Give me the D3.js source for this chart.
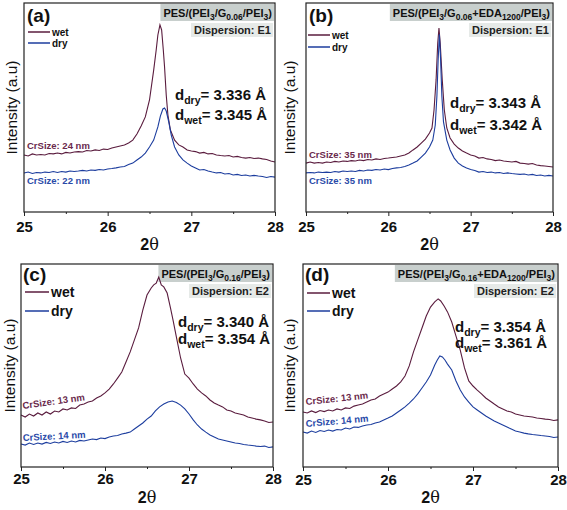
<!DOCTYPE html>
<html><head><meta charset="utf-8">
<script src="https://cdn.jsdelivr.net/npm/d3@7"></script>
<style>body{margin:0;background:#fff}svg{display:block}text{font-family:"Liberation Sans",Arial,sans-serif}</style>
</head><body>
<svg id="c" width="567" height="510"></svg>
<script>
// ---------- data ----------
const xTicks = [25, 26, 27, 28];
const xMinorTicks = [25.5, 26.5, 27.5];
const panelLabels = ["(a)", "(b)", "(c)", "(d)"];
const dispersions = ["Dispersion: E1", "Dispersion: E1", "Dispersion: E2", "Dispersion: E2"];
const titles = [
  [["PES/(PEI",0],["3",1],["/G",0],["0.06",1],["/PEI",0],["3",1],[")",0]],
  [["PES/(PEI",0],["3",1],["/G",0],["0.06",1],["+EDA",0],["1200",1],["/PEI",0],["3",1],[")",0]],
  [["PES/(PEI",0],["3",1],["/G",0],["0.16",1],["/PEI",0],["3",1],[")",0]],
  [["PES/(PEI",0],["3",1],["/G",0],["0.16",1],["+EDA",0],["1200",1],["/PEI",0],["3",1],[")",0]]
];
const dDry = ["3.336", "3.343", "3.340", "3.354"];
const dWet = ["3.345", "3.342", "3.354", "3.361"];
const crWet = ["CrSize: 24 nm", "CrSize: 35 nm", "CrSize: 13 nm", "CrSize: 13 nm"];
const crDry = ["CrSize: 22 nm", "CrSize: 35 nm", "CrSize: 14 nm", "CrSize: 14 nm"];

const aWet = [[25.00,27.3],[25.05,26.8],[25.10,27.8],[25.15,27.3],[25.20,27.5],[25.25,27.3],[25.30,28.0],[25.35,27.8],[25.40,28.2],[25.45,27.8],[25.50,28.5],[25.55,28.2],[25.60,28.7],[25.65,28.9],[25.70,28.7],[25.75,29.4],[25.80,29.2],[25.85,29.7],[25.90,29.4],[25.95,30.1],[26.00,29.9],[26.05,30.6],[26.10,31.1],[26.15,31.6],[26.20,32.1],[26.25,33.0],[26.30,34.4],[26.35,37.3],[26.40,41.1],[26.45,45.5],[26.50,53.6],[26.55,67.9],[26.58,77.5],[26.60,84.7],[26.625,89.5],[26.645,87.1],[26.665,77.5],[26.68,69.4],[26.70,56.0],[26.72,46.4],[26.75,39.2],[26.80,34.4],[26.85,32.1],[26.90,31.1],[26.95,29.7],[27.00,29.2],[27.05,28.9],[27.10,28.2],[27.15,28.5],[27.20,27.8],[27.25,28.0],[27.30,27.3],[27.35,27.0],[27.40,26.8],[27.45,27.0],[27.50,26.3],[27.55,26.6],[27.60,26.1],[27.65,25.8],[27.70,26.1],[27.75,25.6],[27.80,25.8],[27.85,25.4],[27.90,25.1],[27.95,24.4],[28.00,23.9]];
const aDry = [[25.00,18.7],[25.05,19.1],[25.10,18.4],[25.15,18.9],[25.20,18.7],[25.25,19.1],[25.30,18.9],[25.35,19.4],[25.40,18.9],[25.45,19.4],[25.50,19.1],[25.55,19.6],[25.60,19.4],[25.65,19.6],[25.70,19.9],[25.75,19.6],[25.80,20.1],[25.85,19.9],[25.90,20.3],[25.95,20.1],[26.00,20.6],[26.05,20.8],[26.10,21.1],[26.15,21.5],[26.20,21.8],[26.25,22.7],[26.30,23.4],[26.35,24.9],[26.40,26.3],[26.45,28.2],[26.50,31.1],[26.55,34.4],[26.60,40.7],[26.63,45.9],[26.66,49.3],[26.68,49.8],[26.70,48.3],[26.73,43.1],[26.76,36.8],[26.80,31.1],[26.85,27.3],[26.90,24.9],[26.95,23.4],[27.00,22.0],[27.05,21.1],[27.10,20.1],[27.15,20.3],[27.20,19.6],[27.25,19.1],[27.30,18.7],[27.35,18.9],[27.40,18.2],[27.45,18.4],[27.50,17.7],[27.55,18.0],[27.60,17.5],[27.65,17.7],[27.70,17.2],[27.75,17.5],[27.80,17.2],[27.85,17.0],[27.90,16.5],[27.95,17.0],[28.00,16.7]];
const bWet = [[25.00,23.4],[25.05,23.9],[25.10,23.4],[25.15,23.7],[25.20,23.4],[25.25,23.9],[25.30,23.7],[25.35,24.2],[25.40,23.9],[25.45,24.4],[25.50,24.2],[25.55,24.6],[25.60,24.4],[25.65,24.9],[25.70,24.6],[25.75,25.1],[25.80,24.9],[25.85,25.4],[25.90,25.1],[25.95,25.6],[26.00,25.8],[26.05,26.1],[26.10,26.3],[26.15,26.8],[26.20,27.3],[26.25,28.2],[26.30,29.7],[26.35,31.1],[26.40,33.0],[26.45,34.9],[26.50,37.8],[26.53,40.2],[26.555,48.8],[26.58,63.2],[26.60,80.9],[26.615,88.0],[26.63,80.9],[26.655,63.2],[26.68,48.8],[26.71,40.2],[26.75,35.4],[26.80,32.5],[26.85,30.6],[26.90,29.2],[26.95,28.2],[27.00,27.3],[27.05,26.8],[27.10,25.8],[27.15,26.1],[27.20,25.4],[27.25,25.1],[27.30,24.6],[27.35,24.9],[27.40,24.4],[27.45,24.2],[27.50,23.9],[27.55,24.2],[27.60,23.4],[27.65,23.2],[27.70,22.9],[27.75,23.2],[27.80,22.5],[27.85,22.2],[27.90,22.0],[27.95,21.8],[28.00,21.5]];
const bDry = [[25.00,18.7],[25.05,18.9],[25.10,18.7],[25.15,19.1],[25.20,18.9],[25.25,19.1],[25.30,18.9],[25.35,19.4],[25.40,19.1],[25.45,19.6],[25.50,19.4],[25.55,19.6],[25.60,19.4],[25.65,19.9],[25.70,19.6],[25.75,20.1],[25.80,19.9],[25.85,20.3],[25.90,20.1],[25.95,20.6],[26.00,20.3],[26.05,20.8],[26.10,21.1],[26.15,21.3],[26.20,21.8],[26.25,22.5],[26.30,23.4],[26.35,24.4],[26.40,26.3],[26.45,28.2],[26.50,31.1],[26.54,34.4],[26.57,41.6],[26.59,55.5],[26.605,72.7],[26.62,85.0],[26.635,72.7],[26.65,55.5],[26.67,43.1],[26.71,34.4],[26.75,29.7],[26.80,25.8],[26.85,23.4],[26.90,22.0],[26.95,21.1],[27.00,20.3],[27.05,19.9],[27.10,19.1],[27.15,19.4],[27.20,18.9],[27.25,19.1],[27.30,18.7],[27.35,18.9],[27.40,18.4],[27.45,18.7],[27.50,18.4],[27.55,18.2],[27.60,18.0],[27.65,18.2],[27.70,17.7],[27.75,18.0],[27.80,17.5],[27.85,17.7],[27.90,17.2],[27.95,17.5],[28.00,17.2]];
const cWet = [[25.00,25.6],[25.05,24.6],[25.10,26.1],[25.15,25.1],[25.20,26.6],[25.25,25.6],[25.30,27.1],[25.35,26.1],[25.40,27.6],[25.45,27.1],[25.50,28.6],[25.55,28.1],[25.60,29.1],[25.65,28.8],[25.70,30.5],[25.75,31.0],[25.80,32.0],[25.85,32.5],[25.90,34.0],[25.95,35.0],[26.00,36.5],[26.05,38.4],[26.10,40.9],[26.15,43.8],[26.20,46.8],[26.25,51.7],[26.30,56.7],[26.35,62.6],[26.40,68.5],[26.45,77.3],[26.50,84.7],[26.55,88.2],[26.58,89.7],[26.61,90.6],[26.64,93.6],[26.67,89.7],[26.70,88.7],[26.74,85.7],[26.78,78.3],[26.81,72.4],[26.85,64.0],[26.90,53.7],[26.95,45.8],[27.00,43.8],[27.05,40.9],[27.10,38.4],[27.15,36.5],[27.20,35.0],[27.25,33.0],[27.30,31.5],[27.35,30.5],[27.40,29.6],[27.45,28.1],[27.50,27.6],[27.55,26.6],[27.60,26.1],[27.65,25.6],[27.70,24.6],[27.75,24.1],[27.80,23.6],[27.85,23.2],[27.90,22.7],[27.95,21.9],[28.00,22.2]];
const cDry = [[25.00,11.3],[25.05,10.8],[25.10,11.8],[25.15,11.1],[25.20,11.8],[25.25,11.3],[25.30,12.1],[25.35,11.6],[25.40,12.3],[25.45,11.8],[25.50,12.6],[25.55,12.1],[25.60,12.8],[25.65,12.3],[25.70,13.1],[25.75,12.8],[25.80,13.3],[25.85,13.8],[25.90,13.5],[25.95,14.3],[26.00,14.0],[26.05,14.8],[26.10,15.3],[26.15,15.5],[26.20,16.3],[26.25,16.7],[26.30,17.2],[26.35,18.7],[26.40,20.2],[26.45,21.7],[26.50,23.6],[26.55,25.1],[26.60,27.6],[26.65,29.6],[26.70,31.0],[26.75,32.0],[26.80,32.5],[26.85,31.8],[26.90,30.5],[26.95,28.6],[27.00,26.1],[27.05,23.2],[27.10,20.7],[27.15,18.7],[27.20,17.2],[27.25,15.8],[27.30,14.8],[27.35,13.8],[27.40,13.3],[27.45,12.8],[27.50,12.3],[27.55,11.8],[27.60,11.6],[27.65,11.1],[27.70,10.8],[27.75,10.6],[27.80,10.3],[27.85,10.1],[27.90,10.3],[27.95,9.6],[28.00,9.9]];
const dWetSeries = [[25.00,27.1],[25.05,26.6],[25.10,27.6],[25.15,26.8],[25.20,27.8],[25.25,27.3],[25.30,28.1],[25.35,27.6],[25.40,28.6],[25.45,28.1],[25.50,29.1],[25.55,28.8],[25.60,30.0],[25.65,30.5],[25.70,31.0],[25.75,32.0],[25.80,33.0],[25.85,33.5],[25.90,35.0],[25.95,36.0],[26.00,36.9],[26.05,38.4],[26.10,39.9],[26.15,41.9],[26.20,44.8],[26.25,49.8],[26.30,56.7],[26.35,62.6],[26.40,68.5],[26.45,74.4],[26.50,78.8],[26.55,81.3],[26.59,82.8],[26.62,81.8],[26.66,79.3],[26.70,76.4],[26.75,71.4],[26.80,64.5],[26.85,57.6],[26.90,48.8],[26.95,42.4],[27.00,39.9],[27.05,37.9],[27.10,36.0],[27.15,34.0],[27.20,32.5],[27.25,31.0],[27.30,29.6],[27.35,28.6],[27.40,27.6],[27.45,27.1],[27.50,26.1],[27.55,25.6],[27.60,25.1],[27.65,24.9],[27.70,24.6],[27.75,24.1],[27.80,23.9],[27.85,23.6],[27.90,23.4],[27.95,22.9],[28.00,23.2]];
const dDrySeries = [[25.00,17.2],[25.05,16.7],[25.10,17.7],[25.15,17.0],[25.20,18.0],[25.25,17.5],[25.30,18.2],[25.35,17.7],[25.40,18.5],[25.45,18.2],[25.50,19.2],[25.55,18.7],[25.60,19.7],[25.65,19.5],[25.70,20.2],[25.75,20.7],[25.80,20.9],[25.85,21.7],[25.90,22.2],[25.95,23.2],[26.00,24.1],[26.05,25.1],[26.10,26.6],[26.15,28.1],[26.20,29.6],[26.25,31.5],[26.30,33.5],[26.35,36.0],[26.40,38.9],[26.45,41.9],[26.50,45.3],[26.55,50.2],[26.58,52.7],[26.61,54.7],[26.64,54.2],[26.67,52.7],[26.70,50.7],[26.75,47.8],[26.80,42.4],[26.85,37.9],[26.90,34.5],[26.95,32.0],[27.00,29.6],[27.05,28.1],[27.10,26.6],[27.15,25.1],[27.20,23.9],[27.25,22.7],[27.30,21.7],[27.35,20.7],[27.40,19.7],[27.45,18.7],[27.50,17.7],[27.55,17.2],[27.60,16.7],[27.65,16.3],[27.70,16.0],[27.75,15.8],[27.80,15.5],[27.85,15.3],[27.90,15.0],[27.95,14.5],[28.00,14.8]];
const wetSeries = [aWet, bWet, cWet, dWetSeries];
const drySeries = [aDry, bDry, cDry, dDrySeries];

// ---------- layout ----------
const WET = "#5a1c3e", DRY = "#1c3d9e";
const panels = [
  {l:24, r:275, t:3, b:212, ylab:12, xlabY:244, tickY:232, leg:{x:28, y1:32, y2:43, len:22, fs:10}, lab:{x:27,y:22},
   dd:{x:175,y1:100,y2:120}, cw:{x:27,y:149,rot:0}, cd:{x:27,y:184,rot:0}},
  {l:306, r:553, t:3, b:212, ylab:290, xlabY:244, tickY:232, leg:{x:308, y1:35, y2:47, len:22, fs:10}, lab:{x:309,y:22},
   dd:{x:450,y1:108,y2:130}, cw:{x:309,y:158,rot:0}, cd:{x:309,y:184,rot:0}},
  {l:21, r:273, t:264, b:467, ylab:10, xlabY:497, tickY:484, leg:{x:25, y1:292, y2:311, len:24, fs:14}, lab:{x:23,y:281},
   dd:{x:178,y1:327,y2:344}, cw:{x:23,y:409,rot:-8}, cd:{x:23,y:441,rot:-3}},
  {l:303, r:558, t:264, b:467, ylab:290, xlabY:497, tickY:485, leg:{x:307, y1:293, y2:311, len:23, fs:14}, lab:{x:305,y:281},
   dd:{x:455,y1:332,y2:348}, cw:{x:306,y:405,rot:-6}, cd:{x:306,y:427,rot:-5}}
];

const svg = d3.select("#c");

function rich(g, x, y, segs, fs, sfs, anchor, fill) {
  const t = g.append("text").attr("x", x).attr("y", y).attr("font-size", fs)
    .attr("font-weight", "bold").attr("fill", fill || "#111").attr("text-anchor", anchor || "start");
  let shifted = false;
  segs.forEach(([s, sub]) => {
    const ts = t.append("tspan").text(s);
    if (sub) { ts.attr("font-size", sfs); if (!shifted) { ts.attr("dy", fs * 0.28); shifted = true; } }
    else if (shifted) { ts.attr("dy", -fs * 0.28); shifted = false; }
  });
  return t;
}

panels.forEach((p, i) => {
  const g = svg.append("g");
  const x = d3.scaleLinear().domain([25, 28]).range([p.l, p.r]);
  const y = d3.scaleLinear().domain([0, 100]).range([p.b, p.t]);

  // axis
  const ax = g.append("g").attr("transform", `translate(0,${p.b})`)
    .call(d3.axisBottom(x).tickValues(xTicks).tickSize(4).tickFormat(d3.format("d")));
  ax.select(".domain").remove();
  ax.selectAll("line").attr("stroke", "#222");
  ax.selectAll("text").attr("font-size", 15).attr("font-weight", "bold").attr("fill", "#111")
    .attr("y", p.tickY - p.b).attr("dy", 0);
  g.append("g").attr("transform", `translate(0,${p.b})`)
    .call(d3.axisBottom(x).tickValues(xMinorTicks).tickSize(2).tickFormat(""))
    .call(s => s.select(".domain").remove())
    .selectAll("line").attr("stroke", "#222");

  // title boxes (rects drawn first, text on top)
  const bg = g.append("g");
  const tt = rich(g, p.r - 3, p.t + 14, titles[i], 11, 8.5, "end");
  const bb = tt.node().getBBox();
  bg.append("rect").attr("x", bb.x - 3).attr("y", p.t + 1).attr("width", p.r - bb.x + 2).attr("height", 17).attr("fill", "#c8cfcd");
  const dt = g.append("text").attr("x", p.r - 4).attr("y", p.t + 31).attr("text-anchor", "end")
    .attr("font-size", 11).attr("font-weight", "bold").attr("fill", "#222").text(dispersions[i]);
  const db = dt.node().getBBox();
  bg.append("rect").attr("x", db.x - 3).attr("y", db.y - 1).attr("width", p.r - db.x + 1).attr("height", db.height + 2).attr("fill", "#e6eae8");

  // curves
  const line = d3.line().x(d => x(d[0])).y(d => y(d[1]));
  g.append("path").datum(wetSeries[i]).attr("d", line).attr("fill", "none").attr("stroke", WET).attr("stroke-width", 1.1);
  g.append("path").datum(drySeries[i]).attr("d", line).attr("fill", "none").attr("stroke", DRY).attr("stroke-width", 1.1);

  // frame
  g.append("rect").attr("x", p.l).attr("y", p.t).attr("width", p.r - p.l).attr("height", p.b - p.t)
    .attr("fill", "none").attr("stroke", "#222").attr("stroke-width", 1.2);

  // panel label
  g.append("text").attr("x", p.lab.x).attr("y", p.lab.y).attr("font-size", 19).attr("font-weight", "bold").attr("fill", "#111").text(panelLabels[i]);

  // legend
  [[WET, "wet", p.leg.y1], [DRY, "dry", p.leg.y2]].forEach(([c, s, yy]) => {
    g.append("line").attr("x1", p.leg.x).attr("x2", p.leg.x + p.leg.len).attr("y1", yy).attr("y2", yy).attr("stroke", c).attr("stroke-width", 1.5);
    g.append("text").attr("x", p.leg.x + p.leg.len + 2).attr("y", yy + p.leg.fs * 0.35).attr("font-size", p.leg.fs)
      .attr("font-weight", "bold").attr("fill", "#111").text(s);
  });

  // d-spacing
  rich(g, p.dd.x, p.dd.y1, [["d",0],["dry",1],["= " + dDry[i] + " Å",0]], 15, 10.5, "start");
  rich(g, p.dd.x, p.dd.y2, [["d",0],["wet",1],["= " + dWet[i] + " Å",0]], 15, 10.5, "start");

  // crystallite sizes
  g.append("text").attr("transform", `translate(${p.cw.x},${p.cw.y}) rotate(${p.cw.rot})`)
    .attr("font-size", 9.5).attr("font-weight", "bold").attr("fill", "#6a2a4c").text(crWet[i]);
  g.append("text").attr("transform", `translate(${p.cd.x},${p.cd.y}) rotate(${p.cd.rot})`)
    .attr("font-size", 9.5).attr("font-weight", "bold").attr("fill", "#2a4aa8").text(crDry[i]);

  // axis titles
  g.append("text").attr("transform", `translate(${p.ylab},${(p.t + p.b) / 2}) rotate(-90)`).attr("text-anchor", "middle")
    .attr("dy", "0.35em").attr("font-size", 15.5).attr("fill", "#111").text("Intensity (a.u)");
  const xt = g.append("text").attr("x", (p.l + p.r) / 2).attr("y", p.xlabY).attr("dy", "0.35em").attr("text-anchor", "middle")
    .attr("font-size", 16).attr("font-weight", "bold").attr("fill", "#111");
  xt.append("tspan").text("2");
  xt.append("tspan").attr("font-family", "'DejaVu Serif',serif").attr("font-weight", "normal").text("θ");
});
</script>
</body></html>
